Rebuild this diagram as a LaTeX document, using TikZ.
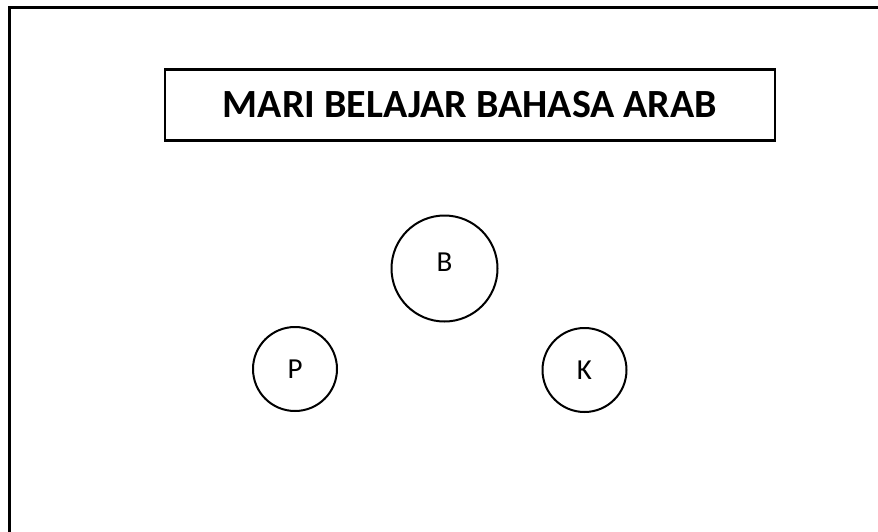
\documentclass[tikz,border=0pt]{standalone}
\usepackage{fontspec}
\setmainfont{Carlito}
\usetikzlibrary{positioning}

\tikzset{
  lingkaran/.style={draw, circle, line width=2pt, inner sep=0pt, font=\fontsize{29}{34}\selectfont},
  judul/.style={draw, line width=2.2pt, inner sep=0pt, font=\bfseries\fontsize{40}{48}\selectfont}
}

\begin{document}
\begin{tikzpicture}[x=1pt,y=-1pt]
% Fix the page to the reference size
\useasboundingbox (0,0) rectangle (878,531);
\clip (0,0) rectangle (878,531);

% Outer frame (right and bottom run off the page)
\draw[line width=2.2pt] (9.5,900) -- (9.5,7.5) -- (900,7.5);

% Title box
\node[judul, minimum width=610pt, minimum height=71pt] (title) at (470,105) {MARI BELAJAR BAHASA ARAB};

% Circles
\node[lingkaran, minimum size=106pt] (B) at (444.5,268.5) {\raisebox{13pt}{B}};
\node[lingkaran, minimum size=84pt] (P) at (295,369) {P};
\node[lingkaran, minimum size=84pt] (K) at (584.5,370) {\raisebox{-4pt}{K}};
\end{tikzpicture}
\end{document}
